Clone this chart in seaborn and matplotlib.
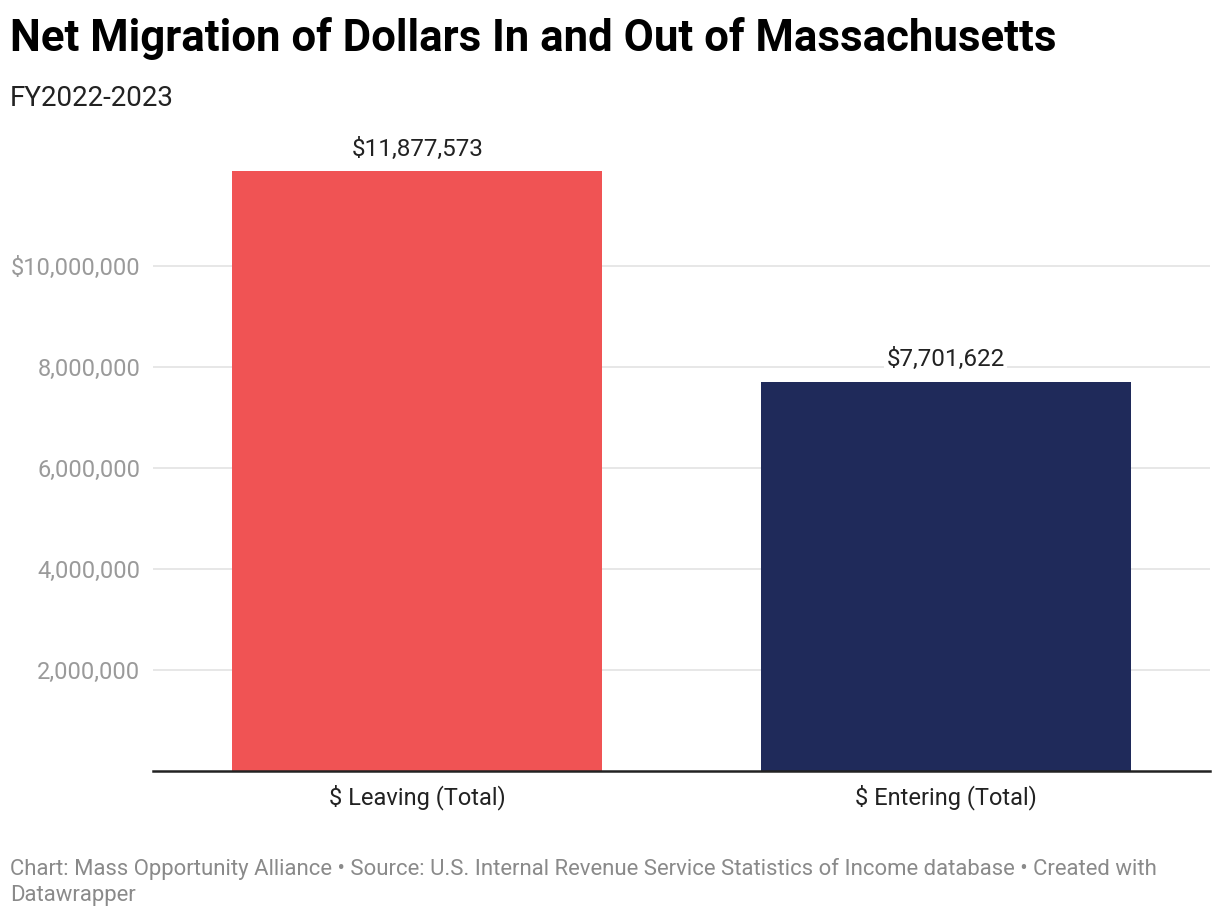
import matplotlib
matplotlib.use("Agg")
import matplotlib.pyplot as plt
import seaborn as sns
import pandas as pd
from matplotlib.ticker import FuncFormatter

categories = ["$ Leaving (Total)", "$ Entering (Total)"]
values = [11877573, 7701622]
colors = ["#F05354", "#1F2A5A"]
yticks = [2000000, 4000000, 6000000, 8000000, 10000000]

sns.set_theme(style="white")
plt.rcParams['font.family'] = ['Roboto', 'DejaVu Sans']

df = pd.DataFrame({"cat": categories, "val": values})

W, H = 1220, 918
fig = plt.figure(figsize=(W / 100, H / 100), dpi=100)
ax = fig.add_axes([153 / W, 1 - 771 / H, (1210 - 153) / W, (771 - 165) / H])

sns.barplot(data=df, x="cat", y="val", hue="cat", palette=colors, width=0.7,
            legend=False, ax=ax, saturation=1, zorder=3, linewidth=0)

ax.set_xlim(-0.5, 1.5)
ax.set_ylim(0, 12000000)
ax.set_yticks(yticks)
ax.yaxis.set_major_formatter(FuncFormatter(
    lambda v, p: ("$" if v == 10000000 else "") + f"{int(v):,}"))
ax.grid(axis="y", color="#e3e3e3", linewidth=1.2, zorder=0)
ax.set_axisbelow(True)
for s in ["top", "right", "left"]:
    ax.spines[s].set_visible(False)
ax.spines["bottom"].set_color("#222222")
ax.spines["bottom"].set_linewidth(1.8)
ax.spines["bottom"].set_zorder(5)
ax.set_xlabel("")
ax.set_ylabel("")
ax.tick_params(axis="y", length=0, labelsize=17, labelcolor="#9a9a9a", pad=9)
ax.tick_params(axis="x", length=0, labelsize=17, labelcolor="#222222", pad=10)

for i, v in enumerate(values):
    ax.text(i, v + 210000, f"${v:,}", ha="center", va="bottom", fontsize=17.5,
            color="#222222", zorder=6,
            bbox=dict(facecolor="white", edgecolor="none", pad=1.5))

fig.text(10 / W, 1 - 38 / H, "Net Migration of Dollars In and Out of Massachusetts",
         fontsize=31.5, fontweight="bold", color="#000000", va="center", ha="left")
fig.text(10 / W, 1 - 99 / H, "FY2022-2023", fontsize=20, color="#222222",
         va="center", ha="left")
fig.text(10 / W, 1 - 882 / H,
         "Chart: Mass Opportunity Alliance \u2022 Source: U.S. Internal Revenue Service Statistics of Income database \u2022 Created with\nDatawrapper",
         fontsize=15.9, color="#8a8a8a", va="center", ha="left", linespacing=1.28)

fig.savefig("out.png", dpi=100, facecolor="white")
